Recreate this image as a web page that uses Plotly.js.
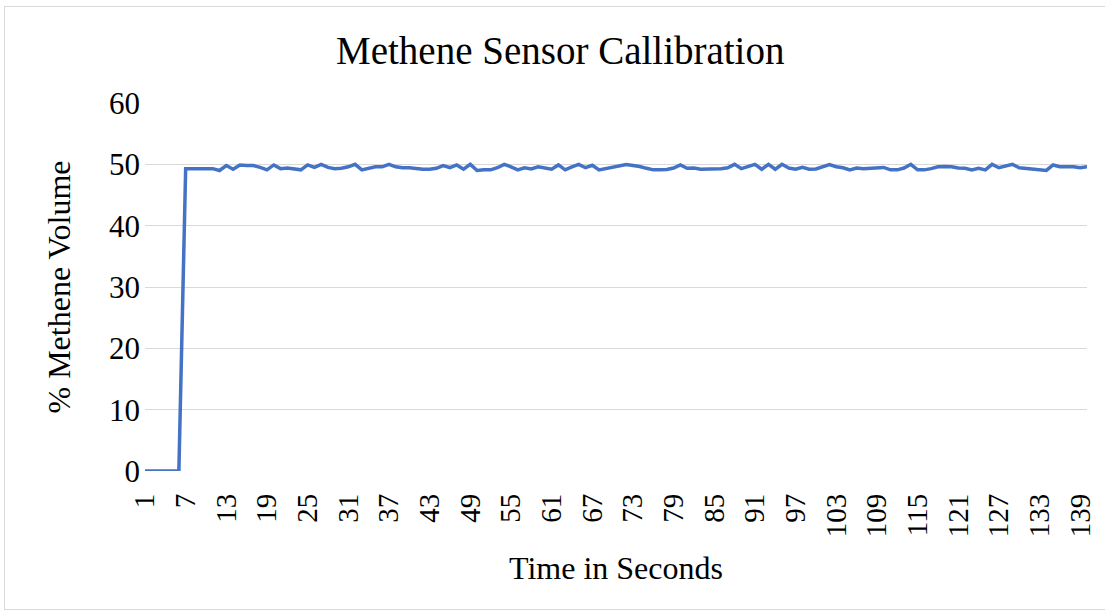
<!DOCTYPE html>
<html>
<head>
<meta charset="utf-8">
<script src="https://cdn.plot.ly/plotly-3.0.1.min.js"></script>
<style>
  html, body { margin: 0; padding: 0; background: #ffffff; }
  #chart { position: absolute; left: 0; top: 0; width: 1105px; height: 612px; }
  #frame { position: absolute; left: 4px; top: 6px; width: 1105px; height: 602px; border: 1px solid #d9d9d9; pointer-events: none; }
</style>
</head>
<body>
<div id="chart"></div>
<div id="frame"></div>
<script>
// Time in seconds (categories 1..140)
const seconds = [];
for (let s = 1; s <= 140; s++) seconds.push(s);

// % Methene volume
const methane = [
  0, 0, 0, 0, 0, 0,
  49.3, 49.3, 49.3, 49.3, 49.3, 49.0, 49.8, 49.2, 49.9, 49.8,
  49.8, 49.5, 49.1, 49.9, 49.3, 49.4, 49.2, 49.1, 49.9, 49.5,
  50.0, 49.5, 49.3, 49.35, 49.6, 50.0, 49.1, 49.4, 49.6, 49.6,
  50.0, 49.6, 49.45, 49.45, 49.3, 49.2, 49.2, 49.35, 49.8, 49.45,
  49.9, 49.2, 50.0, 49.0, 49.1, 49.1, 49.45, 50.0, 49.6, 49.1,
  49.45, 49.25, 49.6, 49.35, 49.2, 49.9, 49.1, 49.6, 50.0, 49.45,
  49.85, 49.1, 49.3, 49.5, 49.8, 49.95, 49.8, 49.65, 49.35, 49.1,
  49.1, 49.15, 49.4, 49.9, 49.35, 49.4, 49.2, 49.2, 49.2, 49.3,
  49.45, 50.0, 49.3, 49.7, 50.0, 49.2, 50.0, 49.2, 50.0, 49.4,
  49.2, 49.5, 49.2, 49.25, 49.6, 49.95, 49.6, 49.45, 49.1, 49.4,
  49.3, 49.4, 49.45, 49.5, 49.1, 49.1, 49.4, 50.0, 49.1, 49.1,
  49.3, 49.6, 49.65, 49.6, 49.4, 49.35, 49.1, 49.35, 49.1, 50.0,
  49.45, 49.8, 50.0, 49.45, 49.35, 49.3, 49.1, 49.0, 49.9, 49.6,
  49.6, 49.6, 49.45, 49.6
];

// Tick labels every 6 seconds
const xTicks = [];
for (let s = 1; s <= 139; s += 6) xTicks.push(s);
const yTicks = [0, 10, 20, 30, 40, 50, 60];

const titleText = "Methene Sensor Callibration";
const xTitle = "Time in Seconds";
const yTitle = "% Methene Volume";

const font = "Liberation Serif, Times New Roman, serif";

Plotly.newPlot("chart", [{
  x: seconds,
  y: methane,
  type: "scatter",
  mode: "lines",
  line: { color: "#4472C4", width: 3.5 },
  hoverinfo: "x+y"
}], {
  width: 1105,
  height: 612,
  margin: { l: 145, r: 18, t: 103, b: 141 },
  paper_bgcolor: "#ffffff",
  plot_bgcolor: "#ffffff",
  showlegend: false,
  title: {
    text: titleText,
    font: { family: font, size: 39, color: "#000000" },
    x: 0.507, xanchor: "center",
    y: 1 - 50 / 612, yanchor: "middle", yref: "container"
  },
  xaxis: {
    range: [1, 140],
    tickmode: "array",
    tickvals: xTicks,
    ticktext: xTicks.map(String),
    tickangle: -90,
    tickfont: { family: font, size: 29, color: "#000000" },
    ticklabelstandoff: 16,
    showgrid: false,
    zeroline: false,
    showline: false,
    ticks: "",
    title: { text: xTitle, font: { family: font, size: 32, color: "#000000" }, standoff: 20 }
  },
  yaxis: {
    range: [0, 60],
    tickmode: "array",
    tickvals: yTicks,
    ticktext: yTicks.map(String),
    tickfont: { family: font, size: 31, color: "#000000" },
    showgrid: true,
    gridcolor: "#d9d9d9",
    gridwidth: 1,
    zeroline: false,
    showline: false,
    ticks: "",
    ticklabelstandoff: 4,
    title: { text: yTitle, font: { family: font, size: 32, color: "#000000" }, standoff: 28 }
  }
}, { displayModeBar: false, staticPlot: true });
</script>
</body>
</html>
